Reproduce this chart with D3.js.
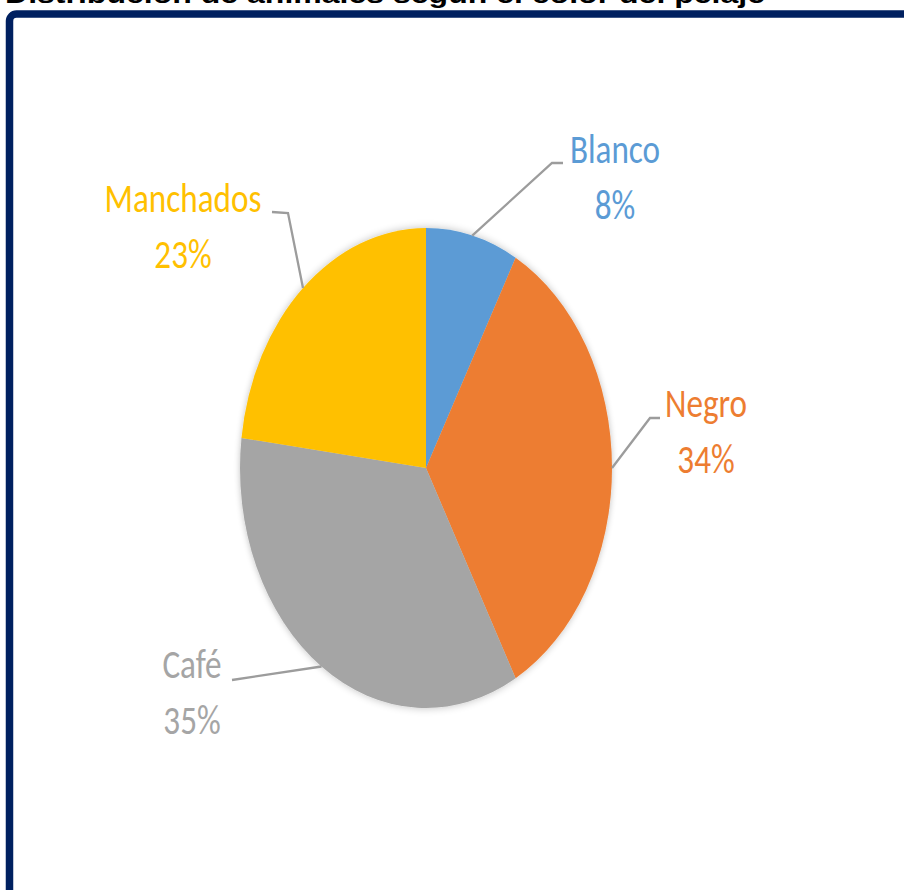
<!DOCTYPE html>
<html>
<head>
<meta charset="utf-8">
<script src="https://cdn.jsdelivr.net/npm/d3@7"></script>
<style>
  body { margin: 0; background: #fff; }
  svg { display: block; }
</style>
</head>
<body>
<svg width="904" height="890"></svg>
<script>
var titleText = "Distribución de animales según el color del pelaje";
var categories = ["Blanco", "Negro", "Café", "Manchados"];
var values = [8, 34, 35, 23];
var colors = ["#5b9bd5", "#ed7d31", "#a5a5a5", "#ffc000"];

// label layout: name baseline position and leader elbow points
var labelAt = [[615, 163], [706, 417], [192, 678], [183, 212]];
var leaderPts = [
  [[552, 163], [563, 163]],
  [[650, 418], [660, 418]],
  [[232, 680]],
  [[288, 213], [272, 212]]
];

var svg = d3.select("svg"),
    width = +svg.attr("width"),
    height = +svg.attr("height");

var cx = 426, cy = 468, rx = 186, ry = 240;

// frame
svg.append("rect")
  .attr("x", 9.5).attr("y", 14)
  .attr("width", 930).attr("height", 920)
  .attr("rx", 7)
  .style("fill", "none")
  .style("stroke", "#002060")
  .style("stroke-width", 7.5);

// title (cut off by the top of the picture, as in the original)
svg.append("text")
  .attr("x", 5).attr("y", 3)
  .style("font-family", "Arial, 'Liberation Sans', sans-serif")
  .style("font-weight", "bold")
  .style("font-size", "26px")
  .style("fill", "#000")
  .attr("textLength", 760)
  .attr("lengthAdjust", "spacingAndGlyphs")
  .text(titleText);

var defs = svg.append("defs");
var f = defs.append("filter").attr("id", "shadow")
  .attr("x", "-10%").attr("y", "-10%").attr("width", "120%").attr("height", "120%");
f.append("feGaussianBlur").attr("in", "SourceAlpha").attr("stdDeviation", 4).attr("result", "b");
f.append("feComponentTransfer").append("feFuncA").attr("type", "linear").attr("slope", 0.25);
var m = f.append("feMerge");
m.append("feMergeNode");
m.append("feMergeNode").attr("in", "SourceGraphic");

var pie = d3.pie().sort(null).value(function(d) { return d; });
var arcs = pie(values);
var arc = d3.arc().innerRadius(0).outerRadius(ry);

var g = svg.append("g")
  .attr("transform", "translate(" + cx + "," + cy + ") scale(" + (rx / ry) + ",1)")
  .attr("filter", "url(#shadow)");

g.selectAll("path")
  .data(arcs)
  .enter().append("path")
  .attr("d", arc)
  .style("fill", function(d, i) { return colors[i]; });

// leader lines from slice mid-angle on the ellipse edge
function edgePoint(d) {
  var a = (d.startAngle + d.endAngle) / 2;
  return [cx + Math.sin(a) * rx, cy - Math.cos(a) * ry];
}
var line = d3.line();
svg.append("g").selectAll("path")
  .data(arcs)
  .enter().append("path")
  .attr("d", function(d, i) { return line([edgePoint(d)].concat(leaderPts[i])); })
  .style("fill", "none")
  .style("stroke", "#9c9c9c")
  .style("stroke-width", 2.3);

// labels
var labels = svg.append("g").selectAll("g")
  .data(arcs)
  .enter().append("g")
  .attr("transform", function(d, i) { return "translate(" + labelAt[i][0] + "," + labelAt[i][1] + ")"; });

var inner = labels.append("g").attr("class", "lab");
inner.append("text")
  .attr("y", 0)
  .text(function(d, i) { return categories[i]; });
inner.append("text")
  .attr("y", 56)
  .text(function(d, i) { return Math.round(d.value / d3.sum(values) * 100) + "%"; });
inner.selectAll("text")
  .attr("text-anchor", "middle")
  .style("font-family", "Calibri, Carlito, 'Open Sans', sans-serif")
  .style("font-size", "41px")
  .style("fill", function() { return colors[d3.select(this.parentNode).datum().index]; });

// condense horizontally (original picture was stretched vertically)
var w = inner.filter(function(d) { return d.index === 3; }).select("text").node().getComputedTextLength();
var k = 157 / w;
inner.attr("transform", "scale(" + k + ",1)");
</script>
</body>
</html>
